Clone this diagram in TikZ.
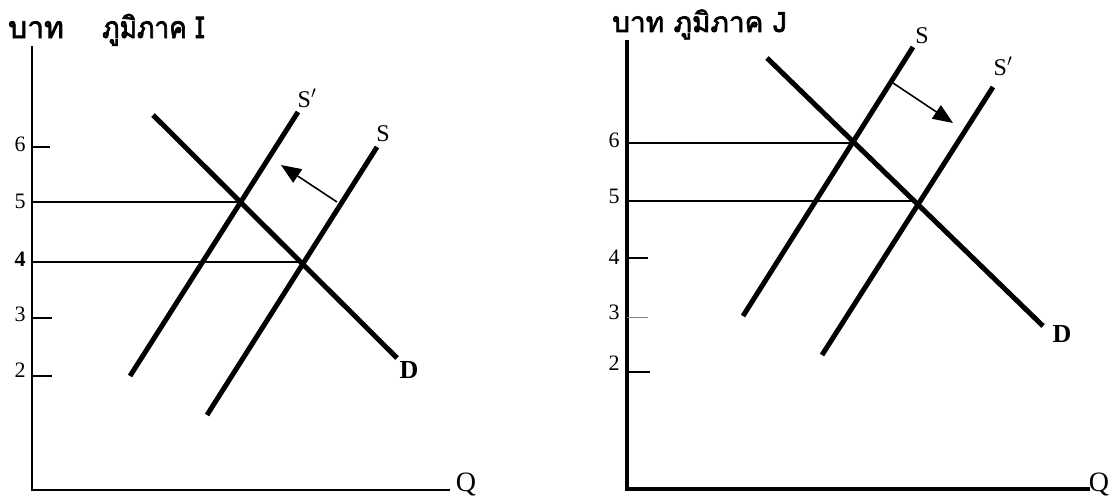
\documentclass[tikz,border=0pt]{standalone}
\usepackage{fontspec}
\setmainfont{Liberation Serif}
\newfontfamily\thai[Script=Thai, AutoFakeBold=2.5]{Loma}
\usetikzlibrary{arrows.meta}
\begin{document}
\begin{tikzpicture}[x=1pt,y=-1pt,
  sdcurve/.style={line width=5pt},
  guideline/.style={line width=1.3pt},
  axisleft/.style={line width=2pt},
  axisright/.style={line width=4.5pt},
  tickline/.style={line width=1.3pt},
  numlabel/.style={font=\fontsize{22}{22}\selectfont, inner sep=0pt},
  curvelabel/.style={font=\fontsize{24}{24}\selectfont, inner sep=0pt},
  dlabel/.style={font=\fontsize{26}{26}\selectfont\bfseries, inner sep=0pt},
  qlabel/.style={font=\fontsize{28}{28}\selectfont, inner sep=0pt},
  titlebig/.style={font=\fontsize{30}{30}\selectfont\thai\bfseries, inner sep=0pt, anchor=base west},
  titlesmall/.style={font=\fontsize{28}{28}\selectfont\thai\bfseries, inner sep=0pt, anchor=base west},
  movearrow/.style={line width=1.6pt, -{Triangle[length=20pt,width=16pt]}},
]
\useasboundingbox (0,0) rectangle (1110,495);

% ---------------- Left panel ----------------
\node[titlebig] (Lbaht) at (8,38) {บาท};
\node[titlebig, xscale=0.88, transform shape] (Lregion) at (102,38) {ภูมิภาค I};

\coordinate (Ltop) at (32,46);
\coordinate (LO) at (32,490);
\coordinate (Lqend) at (450,490);
\draw[axisleft] (Ltop) -- (LO) -- (Lqend);
\node[qlabel] (LQ) at (466,484) {Q};

\coordinate (Lt6) at (32,147);
\coordinate (Lt6e) at (50,147);
\coordinate (Lt5) at (32,202);
\coordinate (Lt4) at (32,262);
\coordinate (Lt3) at (32,318);
\coordinate (Lt3e) at (52,318);
\coordinate (Lt2) at (32,376);
\coordinate (Lt2e) at (52,376);
\draw[tickline] (Lt6) -- (Lt6e);
\draw[tickline] (Lt3) -- (Lt3e);
\draw[tickline] (Lt2) -- (Lt2e);

\node[numlabel] (Ln6) at (20,144) {6};
\node[numlabel] (Ln5) at (20,201) {5};
\node[numlabel, font=\fontsize{22}{22}\selectfont\bfseries] (Ln4) at (20,259) {4};
\node[numlabel] (Ln3) at (20,314) {3};
\node[numlabel] (Ln2) at (20,370) {2};

\coordinate (LE1) at (240,202);
\coordinate (LE2) at (302,262);
\draw[guideline] (Lt5) -- (LE1);
\draw[guideline] (Lt4) -- (LE2);

\coordinate (LDa) at (153,115);
\coordinate (LDb) at (397,358);
\coordinate (LSpa) at (130,376);
\coordinate (LSpb) at (298,112);
\coordinate (LSa) at (207,415);
\coordinate (LSb) at (377,147);
\draw[sdcurve] (LDa) -- (LDb);
\draw[sdcurve] (LSpa) -- (LSpb);
\draw[sdcurve] (LSa) -- (LSb);

\node[curvelabel] (LSplab) at (307,98) {S$'$};
\node[curvelabel] (LSlab) at (383,134) {S};
\node[dlabel] (LDlab) at (409,370) {D};

\coordinate (Larrs) at (337,202);
\coordinate (Larre) at (281,165);
\draw[movearrow] (Larrs) -- (Larre);

% ---------------- Right panel ----------------
\node[titlesmall] (Rtitle) at (612,32) {บาท ภูมิภาค J};

\coordinate (Rtop) at (627,40);
\coordinate (RO) at (627,489);
\coordinate (Rqend) at (1090,489);
\draw[axisright] (Rtop) -- (RO) -- (Rqend);
\node[qlabel] (RQ) at (1099,484) {Q};

\coordinate (Rt6) at (627,143);
\coordinate (Rt5) at (627,201);
\coordinate (Rt4) at (627,258);
\coordinate (Rt4e) at (648,258);
\coordinate (Rt3) at (627,317);
\coordinate (Rt3e) at (648,317);
\coordinate (Rt2) at (627,372);
\coordinate (Rt2e) at (650,372);
\draw[tickline] (Rt4) -- (Rt4e);
\draw[line width=0.8pt, gray] (Rt3) -- (Rt3e);
\draw[tickline] (Rt2) -- (Rt2e);

\node[numlabel] (Rn6) at (614,140) {6};
\node[numlabel] (Rn5) at (614,196) {5};
\node[numlabel] (Rn4) at (614,257) {4};
\node[numlabel] (Rn3) at (614,312) {3};
\node[numlabel] (Rn2) at (614,363) {2};

\coordinate (RE1) at (853,143);
\coordinate (RE2) at (917,201);
\draw[guideline] (Rt6) -- (RE1);
\draw[guideline] (Rt5) -- (RE2);

\coordinate (RDa) at (767,58);
\coordinate (RDb) at (1043,326);
\coordinate (RSa) at (743,316);
\coordinate (RSb) at (913,47);
\coordinate (RSpa) at (822,355);
\coordinate (RSpb) at (993,87);
\draw[sdcurve] (RDa) -- (RDb);
\draw[sdcurve] (RSa) -- (RSb);
\draw[sdcurve] (RSpa) -- (RSpb);

\node[curvelabel] (RSlab) at (922,36) {S};
\node[curvelabel] (RSplab) at (1003,66) {S$'$};
\node[dlabel] (RDlab) at (1062,334) {D};

\coordinate (Rarrs) at (893,83);
\coordinate (Rarre) at (953,123);
\draw[movearrow] (Rarrs) -- (Rarre);
\end{tikzpicture}
\end{document}
